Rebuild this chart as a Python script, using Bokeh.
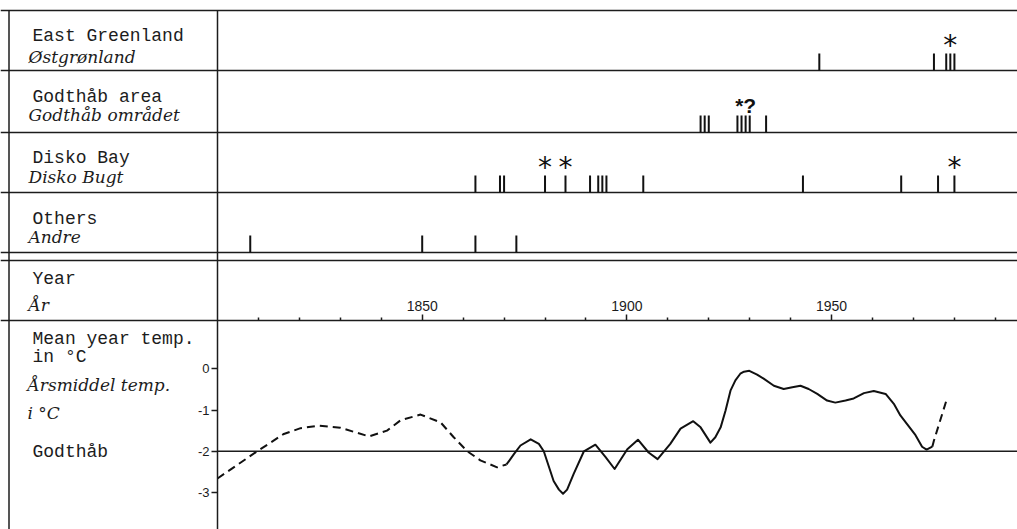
from bokeh.plotting import figure
from bokeh.models import Range1d, LinearAxis, FixedTicker
from bokeh.core.properties import value
from bokeh.embed import file_html
from bokeh.resources import INLINE

# ---------------- data ----------------
region_names = ["East Greenland", "Godthåb area", "Disko Bay", "Others"]
region_names_da = ["Østgrønland", "Godthåb området", "Disko Bugt", "Andre"]

east_greenland_years = [1947, 1975, 1978, 1979, 1980]
east_greenland_marked = [1979]
godthaab_area_years = [1918, 1919, 1920, 1927, 1928, 1929, 1930, 1934]
godthaab_area_marked = [1929]
disko_bay_years = [1863, 1869, 1870, 1880, 1885, 1891, 1893, 1894, 1895,
                   1904, 1943, 1967, 1976, 1980]
disko_bay_marked = [1880, 1885, 1980]
others_years = [1808, 1850, 1863, 1873]
others_marked = []

temp_early_years = [1800, 1809.7, 1816.2, 1820.3, 1824.7, 1830.0, 1837.0, 1841.4,
                    1844.7, 1849.6, 1854.5, 1857.7, 1861.0, 1864.2, 1868.3, 1870.6]
temp_early = [-2.66, -2.00, -1.58, -1.44, -1.38, -1.43, -1.64, -1.50,
              -1.25, -1.11, -1.30, -1.66, -2.00, -2.22, -2.39, -2.32]

temp_years = [1870.6, 1872.4, 1874.0, 1876.5, 1878.5, 1879.7, 1882.1, 1883.4, 1884.4,
              1885.4, 1887.0, 1889.5, 1892.3, 1894.8, 1897.0, 1900.1, 1902.7, 1905.3,
              1907.5, 1910.6, 1913.1, 1916.2, 1918.0, 1920.4, 1921.6, 1922.9, 1924.1,
              1925.3, 1926.5, 1927.7, 1928.6, 1929.9, 1931.8, 1933.4, 1935.9, 1938.3,
              1940.4, 1942.4, 1944.4, 1946.5, 1948.9, 1950.9, 1953.4, 1955.4, 1957.9,
              1960.3, 1963.2, 1965.2, 1966.8, 1970.5, 1972.1, 1973.2, 1974.6]
temp_values = [-2.32, -2.07, -1.86, -1.71, -1.82, -2.00, -2.72, -2.93, -3.03,
               -2.93, -2.55, -2.00, -1.84, -2.14, -2.43, -1.95, -1.72, -2.03,
               -2.19, -1.82, -1.45, -1.27, -1.42, -1.79, -1.66, -1.42, -1.01,
               -0.53, -0.28, -0.12, -0.07, -0.05, -0.14, -0.24, -0.41, -0.49,
               -0.45, -0.41, -0.49, -0.61, -0.77, -0.82, -0.77, -0.72, -0.59,
               -0.54, -0.61, -0.85, -1.13, -1.61, -1.89, -1.96, -1.89]

temp_late_years = [1974.6, 1975.0, 1978.1]
temp_late = [-1.89, -1.74, -0.75]

mean_temp = -2.0

year_ticks = [1850, 1900, 1950]
year_tick_labels = ["1850", "1900", "1950"]
decade_ticks = [1810, 1820, 1830, 1840, 1860, 1870, 1880, 1890, 1910, 1920,
                1930, 1940, 1960, 1970, 1980, 1990]
temp_ticks = [0, -1, -2, -3]
temp_tick_labels = ["0", "-1", "-2", "-3"]

# ---------------- layout constants ----------------
W, H = 1017, 529
PX_PER_YEAR = 4.094
PX_PER_DEG = 41.23
X_1800 = 217.0      # canvas x of year 1800
Y_ZERO = 368.3      # canvas y of 0 degC

x_start = 1800 - X_1800 / PX_PER_YEAR
x_end = x_start + W / PX_PER_YEAR
t_top = Y_ZERO / PX_PER_DEG
t_bot = t_top - H / PX_PER_DEG

INK = "#1c1c1c"
MONO = value("Liberation Mono")
SERIF = value("DejaVu Serif")
SANS = value("Liberation Sans")

p = figure(width=W, height=H, x_range=Range1d(x_start, x_end),
           y_range=Range1d(t_bot, t_top), x_axis_location=None, y_axis_location=None,
           toolbar_location=None, output_backend="svg", min_border=0,
           outline_line_color=None, background_fill_color="white")
p.grid.visible = False
# canvas-pixel coordinate systems for frame lines and labels
p.extra_x_ranges = {"px": Range1d(0, W)}
p.extra_y_ranges = {"py": Range1d(H, 0)}

# frame lines
row_baselines = [70, 132, 192, 252]
p.hspan(y=[10] + row_baselines + [260], y_range_name="py", line_color=INK, line_width=1.5)
p.segment(x0=[8.5], y0=[10], x1=[8.5], y1=[H], x_range_name="px",
          y_range_name="py", line_color=INK, line_width=1.5)

# event ticks
TICK_H = 17
all_years = [east_greenland_years, godthaab_area_years, disko_bay_years, others_years]
all_marked = [east_greenland_marked, [], disko_bay_marked, others_marked]
for yrs, marked, base in zip(all_years, all_marked, row_baselines):
    p.segment(x0=yrs, x1=yrs, y0=[base] * len(yrs), y1=[base - TICK_H] * len(yrs),
              y_range_name="py", line_color="#111111", line_width=2)
    if marked:
        p.text(x=marked, y=[base - 25] * len(marked), text=["*"] * len(marked),
               y_range_name="py", text_font=value("DejaVu Sans"), text_font_size="28px",
               text_align="center", text_baseline="middle", text_color="#111111")
p.text(x=godthaab_area_marked, y=[row_baselines[1] - 27], text=["*?"], y_range_name="py",
       text_font=SANS, text_font_style="bold", text_font_size="21px",
       text_align="center", text_baseline="middle", text_color="#111111")

# left-hand labels (upright typewriter / italic Danish)
mono_y = [35, 96.5, 157, 218]
ital_y = [56.5, 114.5, 176, 236]
p.text(x=[32] * 4, y=mono_y, text=region_names, x_range_name="px", y_range_name="py",
       text_font=MONO, text_font_size="18px", text_baseline="middle", text_color=INK)
p.text(x=[28] * 4, y=ital_y, text=region_names_da, x_range_name="px", y_range_name="py",
       text_font=SERIF, text_font_style="italic", text_font_size="17px",
       text_baseline="middle", text_color=INK)
p.text(x=[32, 32, 32, 32], y=[278, 338.5, 356, 451.5],
       text=["Year", "Mean year temp.", "in °C", "Godthåb"],
       x_range_name="px", y_range_name="py", text_font=MONO, text_font_size="18px",
       text_baseline="middle", text_color=INK)
p.text(x=[28, 27, 27], y=[304, 384.5, 412.5], text=["År", "Årsmiddel temp.", "i °C"],
       x_range_name="px", y_range_name="py", text_font=SERIF, text_font_style="italic",
       text_font_size="17px", text_baseline="middle", text_color=INK)

# temperature curve
p.ray(x=[1800], y=[mean_temp], length=0, angle=0, line_color=INK, line_width=1.5)
p.line(temp_early_years, temp_early, line_color="#111111", line_width=2,
       line_dash="8 5", line_join="round")
p.line(temp_years, temp_values, line_color="#111111", line_width=2, line_join="round")
p.line(temp_late_years, temp_late, line_color="#111111", line_width=2,
       line_dash="8 5", line_join="round")

# year axis (ticks pointing up, labels above)
xa = LinearAxis(y_range_name="py", fixed_location=320,
                ticker=FixedTicker(ticks=year_ticks, minor_ticks=decade_ticks),
                major_label_overrides=dict(zip(year_ticks, year_tick_labels)))
xa.major_tick_in = 0
xa.major_tick_out = 6
xa.minor_tick_in = 0
xa.minor_tick_out = 3
xa.axis_line_width = 1.5
xa.axis_line_color = INK
xa.major_tick_line_color = INK
xa.major_tick_line_width = 1.5
xa.minor_tick_line_color = INK
xa.minor_tick_line_width = 1.5
xa.major_label_standoff = 4
xa.major_label_text_font = "Liberation Sans"
xa.major_label_text_font_size = "14px"
xa.major_label_text_color = INK
p.add_layout(xa, "above")

# temperature axis (also the vertical divider)
ya = LinearAxis(fixed_location=1800, bounds=(t_bot, (Y_ZERO - 10) / PX_PER_DEG),
                ticker=FixedTicker(ticks=temp_ticks, minor_ticks=[]),
                major_label_overrides=dict(zip(temp_ticks, temp_tick_labels)))
ya.major_tick_in = 0
ya.major_tick_out = 6
ya.axis_line_width = 1.5
ya.axis_line_color = INK
ya.major_tick_line_color = INK
ya.major_tick_line_width = 1.5
ya.major_label_standoff = 2
ya.major_label_text_font = "Liberation Sans"
ya.major_label_text_font_size = "13px"
ya.major_label_text_color = INK
p.add_layout(ya, "left")

open("out.html", "w").write(file_html(p, INLINE))
